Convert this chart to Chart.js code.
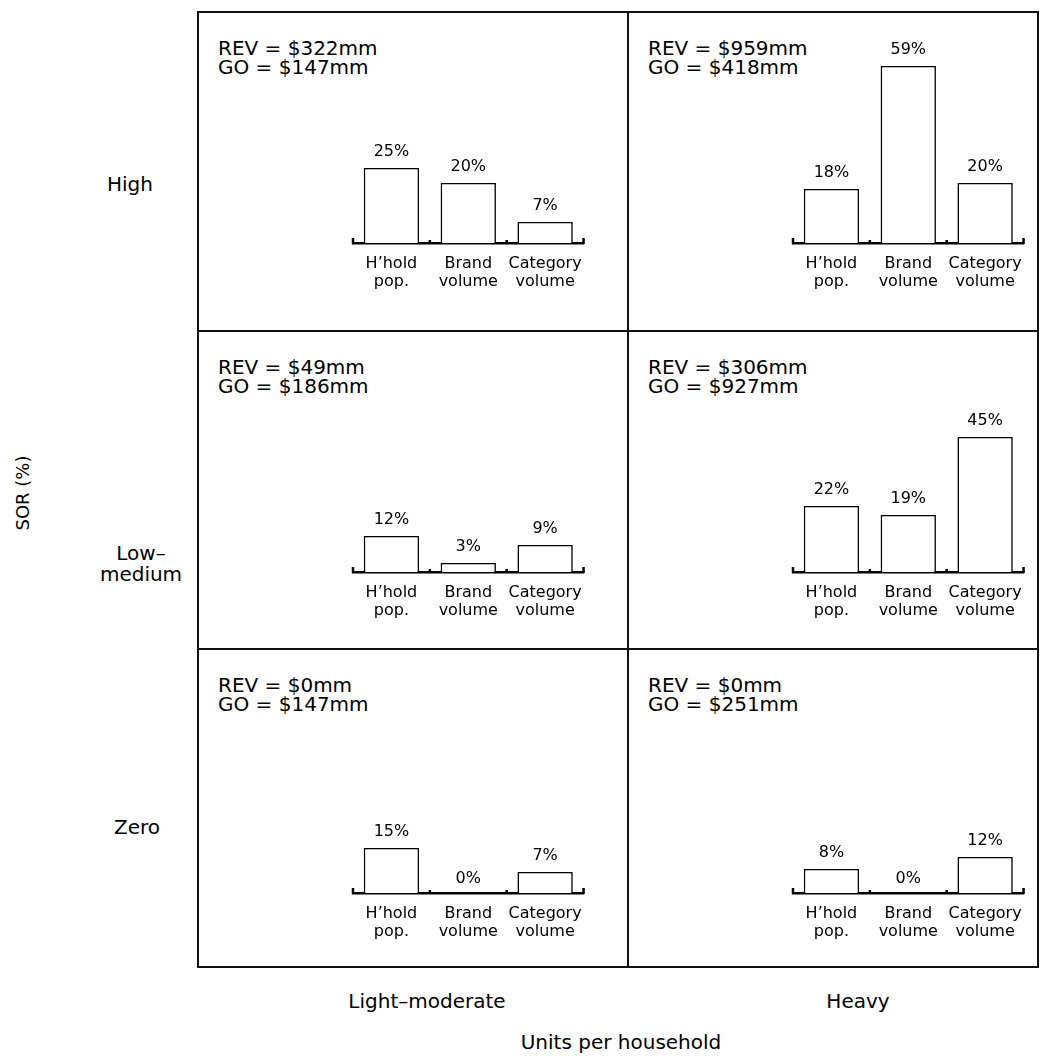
<!DOCTYPE html>
<html>
<head>
<meta charset="utf-8">
<script src="https://cdn.jsdelivr.net/npm/chart.js@4"></script>
<style>
  html, body { margin:0; padding:0; background:#fff; }
  #wrap { position:relative; width:1040px; height:1061px; background:#fff; overflow:hidden;
          font-family:"DejaVu Sans", sans-serif; color:#000; }
  .ln { position:absolute; background:#111; }
  .txt { position:absolute; white-space:nowrap; font-size:20px; line-height:19px; }
  canvas { position:absolute; }
</style>
</head>
<body>
<div id="wrap"></div>
<script>
// ---------------- data ----------------
const categories = [["H’hold", "pop."], ["Brand", "volume"], ["Category", "volume"]];
const rowLabels = ["High", "Low–\nmedium", "Zero"];
const colLabels = ["Light–moderate", "Heavy"];
const xAxisTitle = "Units per household";
const yAxisTitle = "SOR (%)";

const highLight = [25, 20, 7];
const highHeavy = [18, 59, 20];
const lowLight  = [12, 3, 9];
const lowHeavy  = [22, 19, 45];
const zeroLight = [15, 0, 7];
const zeroHeavy = [8, 0, 12];

const revHigh = [322, 959];
const revLow  = [49, 306];
const revZero = [0, 0];
const goHigh  = [147, 418];
const goLow   = [186, 927];
const goZero  = [147, 251];

// ---------------- layout ----------------
const wrap = document.getElementById('wrap');
function line(x, y, w, h) {
  const d = document.createElement('div'); d.className = 'ln';
  Object.assign(d.style, {left:x+'px', top:y+'px', width:w+'px', height:h+'px'});
  wrap.appendChild(d);
}
function text(str, x, y, extra) {
  const d = document.createElement('div'); d.className = 'txt';
  d.textContent = str;
  Object.assign(d.style, {left:x+'px', top:y+'px'}, extra || {});
  wrap.appendChild(d); return d;
}
// grid
line(197, 11, 2, 956); line(627, 11, 2, 956); line(1037, 11, 2, 956);
line(197, 11, 842, 2); line(197, 330, 842, 2); line(197, 648, 842, 2); line(197, 966, 842, 2);

const rows = [
  {vals:[highLight, highHeavy], rev:revHigh, go:goHigh, base:243, top:11},
  {vals:[lowLight, lowHeavy],   rev:revLow,  go:goLow,  base:572, top:330},
  {vals:[zeroLight, zeroHeavy], rev:revZero, go:goZero, base:893, top:648}
];
const colLeft = [197, 627];
const chartLeft = [345, 785];

// row labels
const rowLabelPos = [[130, 174], [141, 543], [137, 817]];
rowLabels.forEach((l, i) => {
  text(l, rowLabelPos[i][0], rowLabelPos[i][1],
       {transform:'translateX(-50%)', textAlign:'center', whiteSpace:'pre', lineHeight:'21px'});
});
// y title
text(yAxisTitle, 22, 493, {transform:'translate(-50%,-50%) rotate(-90deg)', fontSize:'18px'});
// column labels
text(colLabels[0], 427, 992, {transform:'translateX(-50%)'});
text(colLabels[1], 858, 992, {transform:'translateX(-50%)'});
text(xAxisTitle, 621, 1033, {transform:'translateX(-50%)'});

// value labels plugin
const valueLabels = {
  id:'valueLabels',
  afterDatasetsDraw(chart) {
    const ctx = chart.ctx;
    const meta = chart.getDatasetMeta(0);
    const data = chart.data.datasets[0].data;
    ctx.save();
    ctx.font = '16px "DejaVu Sans"';
    ctx.fillStyle = '#000';
    ctx.textAlign = 'center';
    ctx.textBaseline = 'bottom';
    meta.data.forEach((bar, i) => {
      const gap = data[i] === 0 ? 6 : 8;
      ctx.fillText(data[i] + '%', bar.x, bar.y - gap);
    });
    ctx.restore();
  }
};
// boundary tick marks
const boundaryTicks = {
  id:'boundaryTicks',
  afterDraw(chart) {
    const x = chart.scales.x, ctx = chart.ctx;
    const b = chart.chartArea.bottom;
    const n = chart.data.labels.length;
    const xs = [x.left];
    for (let i = 1; i < n; i++) xs.push((x.getPixelForValue(i - 1) + x.getPixelForValue(i)) / 2);
    xs.push(x.right);
    ctx.save();
    ctx.strokeStyle = '#000'; ctx.lineWidth = 2.5;
    xs.forEach((px, i) => {
      ctx.beginPath();
      const up = (i === 0 || i === n) ? 5 : 3;
      ctx.moveTo(px, b - up); ctx.lineTo(px, b + 1);
      ctx.stroke();
    });
    ctx.restore();
  }
};

const PAD_TOP = 30, AREA_H = 180, AXIS_H = 50;
rows.forEach((row, r) => {
  [0, 1].forEach(c => {
    // REV/GO text
    text('REV = $' + row.rev[c] + 'mm\nGO = $' + row.go[c] + 'mm',
         colLeft[c] + 21, row.top + 28, {whiteSpace:'pre'});
    const cv = document.createElement('canvas');
    cv.width = 250; cv.height = PAD_TOP + AREA_H + AXIS_H;
    cv.style.left = chartLeft[c] + 'px';
    cv.style.top = (row.base - AREA_H - PAD_TOP) + 'px';
    cv.style.width = '250px'; cv.style.height = cv.height + 'px';
    wrap.appendChild(cv);
    new Chart(cv, {
      type:'bar',
      data:{ labels:categories, datasets:[{
        data:row.vals[c],
        backgroundColor:'#fff', borderColor:'#000', borderWidth:1.6,
        categoryPercentage:1, barPercentage:0.72
      }]},
      options:{
        responsive:false, animation:false, devicePixelRatio:1,
        layout:{padding:{top:PAD_TOP, left:8, right:8, bottom:0}},
        plugins:{legend:{display:false}, tooltip:{enabled:false}},
        scales:{
          y:{display:false, min:0, max:60},
          x:{
            offset:true,
            grid:{display:false, drawTicks:false},
            border:{display:true, color:'#000', width:2.5},
            ticks:{color:'#000', font:{family:'DejaVu Sans', size:16, lineHeight:1.1},
                   padding:12, maxRotation:0, autoSkip:false},
            afterFit(scale){ scale.height = AXIS_H; }
          }
        }
      },
      plugins:[valueLabels, boundaryTicks]
    });
  });
});
</script>
</body>
</html>
